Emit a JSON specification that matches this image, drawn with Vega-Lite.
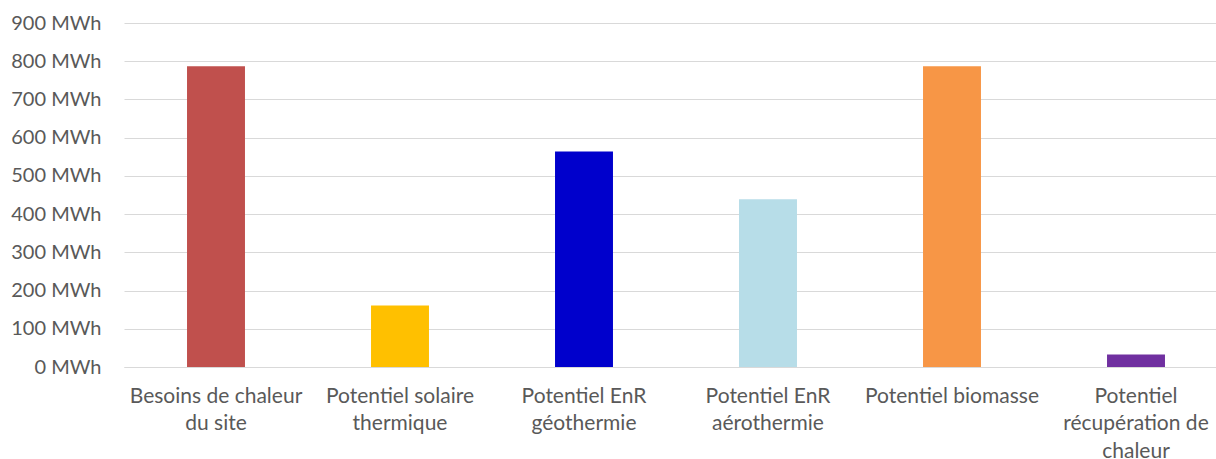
{
  "$schema": "https://vega.github.io/schema/vega-lite/v6.json",
  "autosize": "none",
  "width": 1104,
  "height": 344,
  "padding": {"left": 124, "top": 23, "right": 0, "bottom": 92},
  "background": "white",
  "data": {
    "values": [
      {"categorie": "Besoins de chaleur du site", "valeur": 787, "couleur": "#C0504D"},
      {"categorie": "Potentiel solaire thermique", "valeur": 161, "couleur": "#FFC000"},
      {"categorie": "Potentiel EnR géothermie", "valeur": 564, "couleur": "#0000CC"},
      {"categorie": "Potentiel EnR aérothermie", "valeur": 439, "couleur": "#B7DDE8"},
      {"categorie": "Potentiel biomasse", "valeur": 787, "couleur": "#F79646"},
      {"categorie": "Potentiel récupération de chaleur", "valeur": 33, "couleur": "#7030A0"}
    ]
  },
  "mark": {"type": "bar"},
  "encoding": {
    "x": {
      "field": "categorie",
      "type": "nominal",
      "sort": null,
      "scale": {"paddingInner": 0.685, "paddingOuter": 0.3425},
      "axis": {
        "title": null,
        "labelAngle": 0,
        "ticks": false,
        "domain": true,
        "domainColor": "#d9d9d9",
        "domainWidth": 1,
        "labelFont": "Lato",
        "labelFontSize": 21,
        "labelColor": "#595959",
        "labelPadding": 18,
        "labelLineHeight": 27.5,
        "labelLimit": 300,
        "labelExpr": "datum.value == 'Besoins de chaleur du site' ? ['Besoins de chaleur', 'du site'] : datum.value == 'Potentiel solaire thermique' ? ['Potentiel solaire', 'thermique'] : datum.value == 'Potentiel EnR géothermie' ? ['Potentiel EnR', 'géothermie'] : datum.value == 'Potentiel EnR aérothermie' ? ['Potentiel EnR', 'aérothermie'] : datum.value == 'Potentiel récupération de chaleur' ? ['Potentiel', 'récupération de', 'chaleur'] : datum.value"
      }
    },
    "y": {
      "field": "valeur",
      "type": "quantitative",
      "scale": {"domain": [0, 900], "nice": false},
      "axis": {
        "title": null,
        "values": [0, 100, 200, 300, 400, 500, 600, 700, 800, 900],
        "labelExpr": "datum.value + ' MWh'",
        "ticks": false,
        "domain": false,
        "grid": true,
        "gridColor": "#d9d9d9",
        "gridWidth": 1,
        "labelFont": "Lato",
        "labelFontSize": 20,
        "labelColor": "#595959",
        "labelPadding": 23
      }
    },
    "color": {"field": "couleur", "type": "nominal", "scale": null, "legend": null}
  },
  "config": {"view": {"stroke": null}}
}
